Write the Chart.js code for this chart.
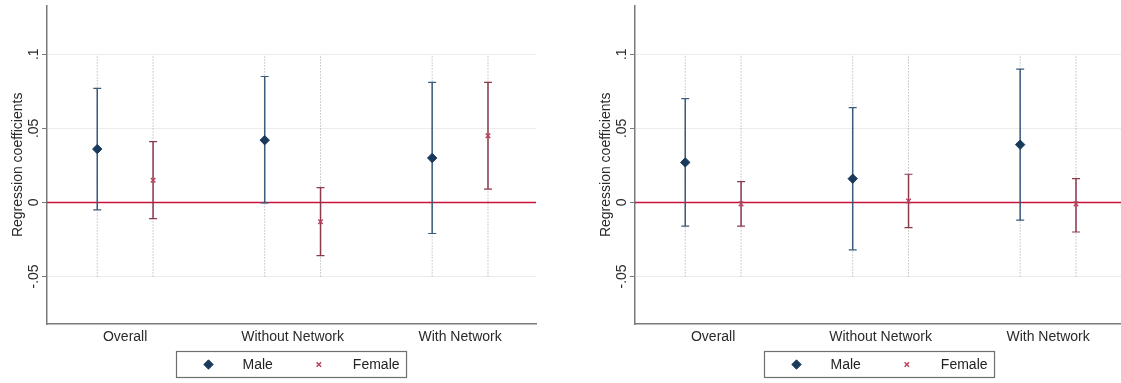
<!DOCTYPE html>
<html>
<head>
<meta charset="utf-8">
<title>Regression coefficients</title>
<script src="https://cdn.jsdelivr.net/npm/chart.js@4.4.1/dist/chart.umd.min.js"></script>
<style>
  html, body { margin: 0; padding: 0; background: #fff; overflow: hidden; }
  #wrap { position: relative; width: 1121px; height: 383px; overflow: hidden; }
  .panel { position: absolute; top: 0; width: 588px; height: 383px; }
</style>
</head>
<body>
<div id="wrap">
  <div class="panel" style="left:0"><canvas id="chartLeft" width="588" height="383"></canvas></div>
  <div class="panel" style="left:588px"><canvas id="chartRight" width="588" height="383"></canvas></div>
</div>
<script>
// données
const categories = ['Overall', 'Without Network', 'With Network'];
const seriesNames = ['Male', 'Female'];
const yTicks = [-0.05, 0, 0.05, 0.1];
const yTickLabels = ['-.05', '0', '.05', '.1'];

// panneau gauche
const leftMaleCoef = [0.036, 0.042, 0.030];
const leftMaleLow = [-0.005, -0.0004, -0.021];
const leftMaleHigh = [0.077, 0.085, 0.081];
const leftFemaleCoef = [0.015, -0.013, 0.045];
const leftFemaleLow = [-0.011, -0.036, 0.009];
const leftFemaleHigh = [0.041, 0.010, 0.081];

// panneau droit
const rightMaleCoef = [0.027, 0.016, 0.039];
const rightMaleLow = [-0.016, -0.032, -0.012];
const rightMaleHigh = [0.070, 0.064, 0.090];
const rightFemaleCoef = [-0.001, 0.001, -0.001];
const rightFemaleLow = [-0.016, -0.017, -0.020];
const rightFemaleHigh = [0.014, 0.019, 0.016];

const FONT = '"Liberation Sans", Arial, Helvetica, sans-serif';
const Y_MIN = -0.0821, Y_MAX = 0.1328;
const X_MIN = 0.1, X_MAX = 8.86;

const MALE_LINE = '#3a5b7c';
const MALE_MARK = '#1a3a5c';
const FEMALE_LINE = '#8b3a4c';
const FEMALE_MARK = '#b8405a';
const ZERO_LINE = '#c8143c';

// position x de chaque série dans un groupe
const slotX = (i, s) => i * 3 + 1 + s;

// légende encadrée façon Stata
const boxLegend = {
  id: 'boxLegend',
  afterDraw(chart) {
    const { ctx, chartArea } = chart;
    const items = chart.data.datasets.filter(d => d.legendEntry);
    ctx.save();
    ctx.font = '14px ' + FONT;
    const widths = items.map(d => ctx.measureText(d.label).width);
    const lead = 32, textGap = 34, itemGap = 46, trail = 7;
    const total = lead + widths.reduce((s, w) => s + textGap + w, 0) + itemGap * (items.length - 1) + trail;
    const left = Math.round((chartArea.left + chartArea.right) / 2 - total / 2) + 0.5;
    const top = chartArea.bottom + 27.5, height = 26;

    ctx.strokeStyle = '#6e6e6e';
    ctx.lineWidth = 1.2;
    ctx.strokeRect(left, top, total, height);

    let mx = left + lead;
    const cy = top + height / 2;
    items.forEach((d, i) => {
      ctx.fillStyle = d.backgroundColor;
      ctx.strokeStyle = d.borderColor;
      ctx.lineWidth = d.borderWidth;
      Chart.helpers.drawPoint(ctx, {
        pointStyle: d.pointStyle,
        radius: d.pointRadius,
        borderWidth: d.borderWidth
      }, mx, cy);
      ctx.fillStyle = '#222';
      ctx.textBaseline = 'middle';
      ctx.textAlign = 'left';
      ctx.fillText(d.label, mx + textGap, cy + 1);
      mx += textGap + widths[i] + itemGap;
    });
    ctx.restore();
  }
};

function makePanel(canvasId, maleCoef, maleLow, maleHigh, femaleCoef, femaleLow, femaleHigh) {
  const datasets = [];
  const groups = [
    { coef: maleCoef, low: maleLow, high: maleHigh, line: MALE_LINE, mark: MALE_MARK, style: 'rectRot', r: 4.7, bw: 1 },
    { coef: femaleCoef, low: femaleLow, high: femaleHigh, line: FEMALE_LINE, mark: FEMALE_MARK, style: 'crossRot', r: 3.2, bw: 1.4 }
  ];

  // lignes pointillées verticales
  categories.forEach((c, i) => {
    groups.forEach((g, s) => {
      datasets.push({
        type: 'line',
        data: [{ x: slotX(i, s), y: yTicks[0] }, { x: slotX(i, s), y: yTicks[yTicks.length - 1] }],
        borderColor: '#a0a0a0',
        borderWidth: 1,
        borderDash: [1, 2],
        pointRadius: 0,
        order: 6
      });
    });
  });

  // ligne zéro
  datasets.push({
    type: 'line',
    data: [{ x: X_MIN, y: 0 }, { x: X_MAX, y: 0 }],
    borderColor: ZERO_LINE,
    borderWidth: 1.5,
    pointRadius: 0,
    order: 4
  });

  // intervalles de confiance
  groups.forEach((g, s) => {
    categories.forEach((c, i) => {
      datasets.push({
        type: 'line',
        data: [{ x: slotX(i, s), y: g.low[i] }, { x: slotX(i, s), y: g.high[i] }],
        borderColor: g.line,
        borderWidth: 1.5,
        pointStyle: 'line',
        pointRadius: 4,
        pointBorderColor: g.line,
        pointBorderWidth: 1.2,
        order: 3
      });
    });
  });

  // coefficients
  groups.forEach((g, s) => {
    datasets.push({
      type: 'scatter',
      label: seriesNames[s],
      legendEntry: true,
      data: g.coef.map((v, i) => ({ x: slotX(i, s), y: v })),
      pointStyle: g.style,
      pointRadius: g.r,
      backgroundColor: g.mark,
      borderColor: g.mark,
      borderWidth: g.bw,
      order: 1
    });
  });

  new Chart(document.getElementById(canvasId), {
    data: { datasets },
    options: {
      responsive: false,
      animation: false,
      layout: { padding: { top: 5, right: 52, bottom: 39, left: 0 } },
      plugins: { legend: { display: false }, tooltip: { enabled: false } },
      scales: {
        x: {
          type: 'linear',
          min: X_MIN,
          max: X_MAX,
          afterBuildTicks: axis => { axis.ticks = categories.map((c, i) => ({ value: i * 3 + 1.5 })); },
          afterFit: axis => { axis.height = 20; },
          grid: { display: false, drawTicks: false },
          border: { display: true, color: '#7a7a7a', width: 1.5 },
          ticks: {
            callback: (v, i) => categories[i],
            font: { family: FONT, size: 14 },
            color: '#2a2a2a',
            padding: 5,
            maxRotation: 0,
            autoSkip: false
          }
        },
        y: {
          type: 'linear',
          min: Y_MIN,
          max: Y_MAX,
          afterBuildTicks: axis => { axis.ticks = yTicks.map(v => ({ value: v })); },
          afterFit: axis => { axis.width = 47; },
          grid: { color: '#ececec', lineWidth: 1, tickColor: '#7a7a7a', tickLength: 5 },
          border: { display: true, color: '#7a7a7a', width: 1.5 },
          ticks: {
            callback: (v, i) => yTickLabels[i],
            font: { family: FONT, size: 14 },
            color: '#2a2a2a',
            minRotation: 90,
            maxRotation: 90,
            crossAlign: 'center',
            padding: -4
          },
          title: {
            display: true,
            text: 'Regression coefficients',
            font: { family: FONT, size: 14 },
            color: '#2a2a2a',
            padding: { top: 10, bottom: 0 }
          }
        }
      }
    },
    plugins: [boxLegend]
  });
}

makePanel('chartLeft', leftMaleCoef, leftMaleLow, leftMaleHigh, leftFemaleCoef, leftFemaleLow, leftFemaleHigh);
makePanel('chartRight', rightMaleCoef, rightMaleLow, rightMaleHigh, rightFemaleCoef, rightFemaleLow, rightFemaleHigh);
</script>
</body>
</html>
